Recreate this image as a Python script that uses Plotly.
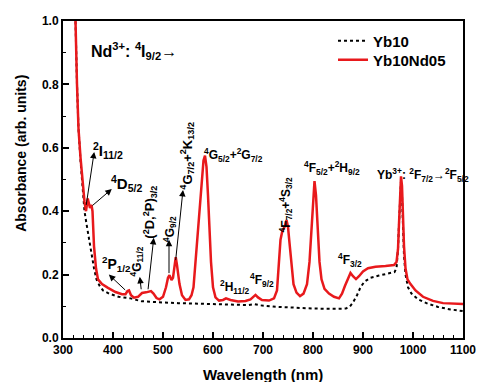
import plotly.graph_objects as go

# ---------------- data ----------------
red_wl = [320, 325, 328, 331, 335, 339, 343, 346, 348, 349.5, 351, 354, 357, 359, 362, 366, 370, 378, 390,
          405, 418, 425, 429, 432, 436, 442, 450, 458, 466, 471, 476, 481, 487, 493, 500, 506, 510, 513,
          517, 520, 523, 525.5, 528, 533, 538, 545, 552, 557, 561, 566, 571, 577, 581, 584, 587, 590, 593,
          596, 600, 605, 612, 620, 626, 635, 650, 665, 675, 681, 685, 690, 698, 712, 722, 728, 732, 735,
          739, 743, 747, 750, 753, 757, 761, 767, 774, 781, 788, 793, 797, 800, 803, 806, 809, 813, 817,
          823, 832, 842, 852, 858, 864, 870, 875, 880, 886, 892, 900, 910, 925, 945, 962, 967, 970, 972,
          974, 976, 978, 980, 982, 985, 989, 995, 1005, 1020, 1040, 1060, 1080, 1100]
red_abs = [1.15, 1.0, 0.80, 0.66, 0.57, 0.49, 0.43, 0.40, 0.42, 0.44, 0.43, 0.41, 0.42, 0.40, 0.29, 0.22,
           0.185, 0.17, 0.158, 0.145, 0.138, 0.138, 0.148, 0.15, 0.135, 0.127, 0.13, 0.142, 0.144, 0.145,
           0.148, 0.14, 0.126, 0.122, 0.13, 0.16, 0.19, 0.198, 0.183, 0.19, 0.235, 0.255, 0.23, 0.17, 0.135,
           0.12, 0.122, 0.135, 0.16, 0.26, 0.37, 0.50, 0.56, 0.575, 0.54, 0.45, 0.34, 0.24, 0.16, 0.128,
           0.118, 0.12, 0.125, 0.12, 0.115, 0.117, 0.122, 0.132, 0.136, 0.128, 0.12, 0.118, 0.125, 0.15,
           0.24, 0.31, 0.34, 0.35, 0.372, 0.35, 0.30, 0.22, 0.17, 0.143, 0.132, 0.14, 0.17, 0.24, 0.35,
           0.44, 0.495, 0.45, 0.35, 0.24, 0.185, 0.155, 0.14, 0.13, 0.125, 0.14, 0.165, 0.19, 0.205, 0.195,
           0.186, 0.195, 0.21, 0.22, 0.225, 0.227, 0.23, 0.24, 0.28, 0.36, 0.45, 0.51, 0.48, 0.38, 0.29,
           0.22, 0.185, 0.17, 0.15, 0.13, 0.117, 0.11, 0.108, 0.107]

blk_wl = [320, 325, 328, 331, 335, 339, 343, 347, 352, 357, 362, 367, 373, 380, 392, 411, 435, 457, 480,
          502, 530, 567, 600, 640, 670, 683, 695, 720, 760, 800, 840, 866, 874, 880, 888, 895, 903, 915,
          932, 950, 963, 967, 970, 972, 974, 976, 978, 980, 982, 985, 990, 997, 1010, 1030, 1050, 1075, 1100]
blk_abs = [1.15, 1.0, 0.80, 0.66, 0.56, 0.48, 0.40, 0.36, 0.31, 0.27, 0.22, 0.185, 0.165, 0.15, 0.14, 0.13,
           0.125, 0.116, 0.113, 0.112, 0.11, 0.108, 0.107, 0.106, 0.104, 0.107, 0.103, 0.099, 0.095, 0.093,
           0.092, 0.093, 0.1, 0.112, 0.135, 0.16, 0.178, 0.19, 0.197, 0.203, 0.208, 0.22, 0.28, 0.36, 0.45,
           0.495, 0.45, 0.35, 0.26, 0.2, 0.16, 0.14, 0.122, 0.108, 0.098, 0.09, 0.085]

series_names = ["Yb10", "Yb10Nd05"]
x_title = "Wavelength (nm)"
y_title = "Absorbance (arb. units)"

FONT = "Liberation Sans, Arial, sans-serif"

fig = go.Figure()
fig.add_trace(go.Scatter(x=blk_wl, y=blk_abs, mode="lines", name=series_names[0], legend="legend",
                         line=dict(color="black", width=2, dash="dot")))
fig.add_trace(go.Scatter(x=red_wl, y=red_abs, mode="lines", name=series_names[1], legend="legend2",
                         line=dict(color="#e8191c", width=2.5)))

# labels: (text, x, y, size, angle, xanchor)
labels = [
    ("Nd<sup>3+</sup>: <sup>4</sup>I<sub>9/2</sub>\u2192", 352.7, 0.905, 16, 0, "left"),
    ("<sup>2</sup>I<sub>11/2</sub>", 356.6, 0.593, 15, 0, "left"),
    ("<sup>4</sup>D<sub>5/2</sub>", 391.7, 0.486, 15, 0, "left"),
    ("<sup>2</sup>P<sub>1/2</sub>", 374, 0.232, 14, 0, "left"),
    ("<sup>4</sup>G<sub>11/2</sub>", 447, 0.24, 12, -90, "center"),
    ("(<sup>2</sup>D,<sup>2</sup>P)<sub>3/2</sub>", 473.7, 0.398, 13, -90, "center"),
    ("<sup>4</sup>G<sub>9/2</sub>", 512.7, 0.345, 12, -90, "center"),
    ("<sup>4</sup>G<sub>7/2</sub>+<sup>2</sup>K<sub>13/2</sub>", 547.8, 0.575, 13, -90, "center"),
    ("<sup>4</sup>G<sub>5/2</sub>+<sup>2</sup>G<sub>7/2</sub>", 577, 0.578, 12, 0, "left"),
    ("<sup>2</sup>H<sub>11/2</sub>", 610, 0.162, 12, 0, "left"),
    ("<sup>4</sup>F<sub>9/2</sub>", 670.7, 0.184, 12, 0, "left"),
    ("<sup>4</sup>F<sub>7/2</sub>+<sup>4</sup>S<sub>3/2</sub>", 745, 0.42, 12, -90, "center"),
    ("<sup>4</sup>F<sub>5/2</sub>+<sup>2</sup>H<sub>9/2</sub>", 778, 0.537, 12, 0, "left"),
    ("<sup>4</sup>F<sub>3/2</sub>", 846, 0.247, 12, 0, "left"),
    ("Yb<sup>3+</sup>: <sup>2</sup>F<sub>7/2</sub>\u2192<sup>2</sup>F<sub>5/2</sub>", 923, 0.515, 12, 0, "left"),
]
for txt, x, y, s, ang, xa in labels:
    fig.add_annotation(x=x, y=y, text=txt, showarrow=False, textangle=ang, xanchor=xa, yanchor="middle",
                       font=dict(family=FONT, size=s, color="black", weight="bold"))

# arrows: (tail x, tail y, head x, head y)
arrows = [
    (346, 0.415, 362.4, 0.587),
    (356, 0.414, 397.6, 0.47),
    (427.4, 0.147, 391.7, 0.2),
    (456.7, 0.149, 453.6, 0.193),
    (469.8, 0.149, 481.5, 0.316),
    (512, 0.2, 512, 0.31),
    (525, 0.241, 540, 0.467),
]
for tx, ty, hx, hy in arrows:
    fig.add_annotation(x=hx, y=hy, ax=tx, ay=ty, xref="x", yref="y", axref="x", ayref="y", text="",
                       showarrow=True, arrowhead=2, arrowsize=1.3, arrowwidth=1, arrowcolor="black")

# axis titles
fig.add_annotation(x=0.499, y=0, xref="paper", yref="paper", yshift=-36, text=x_title, showarrow=False,
                   xanchor="center", yanchor="middle",
                   font=dict(family=FONT, size=15, color="black", weight="bold"))
fig.add_annotation(x=0, y=0.581, xref="paper", yref="paper", xshift=-42, text=y_title, showarrow=False,
                   textangle=-90, xanchor="center", yanchor="middle",
                   font=dict(family=FONT, size=14, color="black", weight="bold"))

leg_font = dict(family=FONT, size=15, color="black", weight="bold")
fig.update_layout(
    width=488, height=382,
    margin=dict(l=63, r=15, t=21, b=44),
    paper_bgcolor="white", plot_bgcolor="white",
    font=dict(family=FONT, color="black"),
    showlegend=True,
    legend=dict(x=0.675, y=1 - (41 - 21) / 317.3, xanchor="left", yanchor="middle", bgcolor="rgba(0,0,0,0)",
                font=leg_font, itemwidth=30, borderwidth=0),
    legend2=dict(x=0.675, y=1 - (60 - 21) / 317.3, xanchor="left", yanchor="middle", bgcolor="rgba(0,0,0,0)",
                 font=leg_font, itemwidth=30, borderwidth=0),
)
fig.update_xaxes(range=[300, 1100], dtick=100, tick0=300, ticks="inside", ticklen=6, tickwidth=1.5,
                 tickcolor="black", showline=True, linecolor="black", linewidth=2, mirror=True,
                 showgrid=False, zeroline=False,
                 minor=dict(dtick=20, ticks="inside", ticklen=3, tickwidth=1.2, tickcolor="black"),
                 tickfont=dict(family=FONT, size=12, weight="bold"))
fig.update_yaxes(range=[0, 1.0], dtick=0.2, tickformat=".1f", ticks="inside", ticklen=6, tickwidth=1.5,
                 tickcolor="black", showline=True, linecolor="black", linewidth=2, mirror=True,
                 showgrid=False, zeroline=False,
                 minor=dict(dtick=0.1, ticks="inside", ticklen=3, tickwidth=1.2, tickcolor="black"),
                 tickfont=dict(family=FONT, size=12, weight="bold"))

fig.write_html("out.html")
